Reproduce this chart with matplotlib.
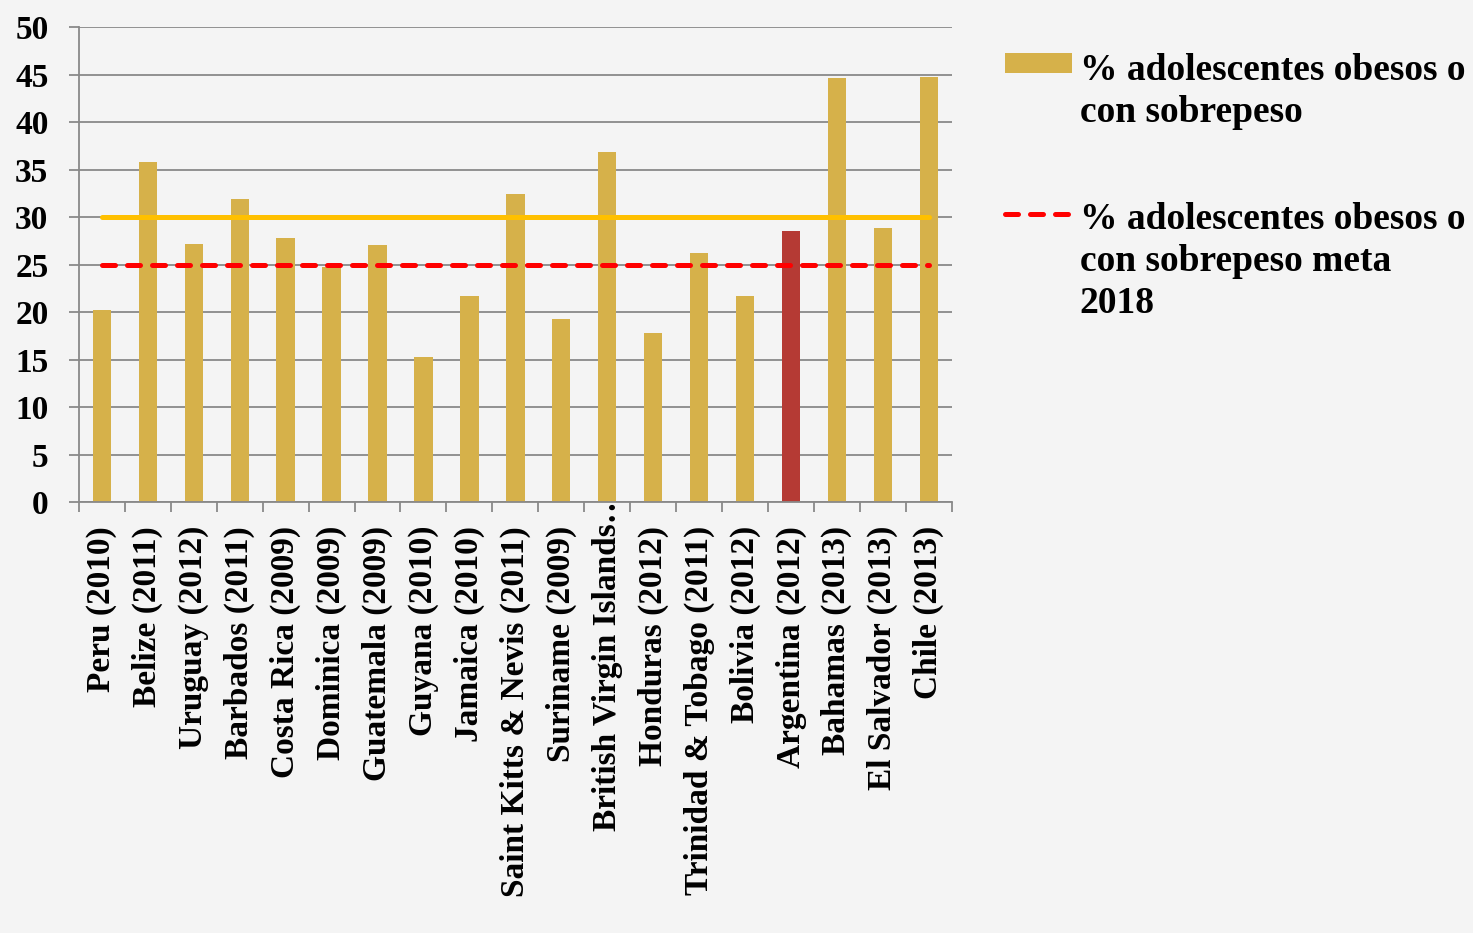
import matplotlib.pyplot as plt
import numpy as np
from matplotlib.legend_handler import HandlerPatch, HandlerLine2D
from matplotlib.transforms import ScaledTranslation

paises = ['Peru (2010)', 'Belize (2011)', 'Uruguay (2012)', 'Barbados (2011)',
          'Costa Rica (2009)', 'Dominica (2009)', 'Guatemala (2009)', 'Guyana (2010)',
          'Jamaica (2010)', 'Saint Kitts & Nevis (2011)', 'Suriname (2009)',
          'British Virgin Islands\u2026', 'Honduras (2012)', 'Trinidad & Tobago (2011)',
          'Bolivia (2012)', 'Argentina (2012)', 'Bahamas (2013)', 'El Salvador (2013)',
          'Chile (2013)']
obesos = [20.2, 35.8, 27.2, 31.9, 27.8, 24.8, 27.1, 15.3, 21.7, 32.5, 19.3, 36.9,
          17.8, 26.2, 21.7, 28.6, 44.7, 28.9, 44.8]
referencia = [30] * len(paises)
meta_2018 = [25] * len(paises)

plt.rcParams['font.family'] = ['Liberation Serif', 'DejaVu Serif']
plt.rcParams['font.weight'] = 'bold'

fig = plt.figure(figsize=(14.73, 9.33), dpi=100)
fig.patch.set_facecolor('#f4f4f4')
ax = fig.add_axes([0.0536, 0.4616, 0.5925, 0.5091])
ax.set_facecolor('#f4f4f4')

x = np.arange(len(paises))
colores = ['#b53a34' if p.startswith('Argentina') else '#d6b14a' for p in paises]
barras = ax.bar(x, obesos, width=0.4, color=colores, zorder=2)
ax.plot(x, referencia, color='#ffc000', lw=3.6, solid_capstyle='round', zorder=3)
linea_meta, = ax.plot(x, meta_2018, color='#ff0000', lw=3.6, dashes=(2.6, 2.4),
                      dash_capstyle='round', zorder=3)

ax.set_xlim(-0.5, len(paises) - 0.5)
ax.set_ylim(0, 50)
ax.set_yticks(np.arange(0, 51, 5))
ax.yaxis.grid(True, color='#898989', lw=1.3, zorder=0)
ax.set_axisbelow(True)
for s in ['top', 'right']:
    ax.spines[s].set_visible(False)
for s in ['left', 'bottom']:
    ax.spines[s].set_color('#898989')
    ax.spines[s].set_linewidth(1.3)

ax.set_xticks(np.arange(len(paises) + 1) - 0.5)
ax.set_xticklabels([])
ax.set_xticks(x, minor=True)
ax.set_xticklabels(paises, minor=True, rotation=90, fontsize=24, fontweight='bold', va='top')
ax.tick_params(axis='x', which='minor', length=0, pad=17)
ax.tick_params(axis='x', which='major', length=7, width=1.3, color='#898989')
ax.tick_params(axis='y', length=7, width=1.3, color='#898989', labelsize=24, pad=15)
for t in ax.get_yticklabels():
    t.set_fontweight('bold')

# la etiqueta truncada sube un poco, como en el original
for t in ax.get_xticklabels(minor=True):
    if t.get_text().endswith('\u2026'):
        t.set_transform(t.get_transform() + ScaledTranslation(0, 26 / 72, fig.dpi_scale_trans))

barra_ley = barras.patches[0]
leg = fig.legend([barra_ley, linea_meta],
                 ['% adolescentes obesos o\ncon sobrepeso',
                  '% adolescentes obesos o\ncon sobrepeso meta\n2018'],
                 loc='upper left', bbox_to_anchor=(0.682, 0.943), frameon=False,
                 prop={'weight': 'bold', 'size': 27}, labelspacing=1.9,
                 handlelength=1.79, handletextpad=0.21, handleheight=0.55,
                 borderpad=0, borderaxespad=0,
                 handler_map={barra_ley: HandlerPatch(ypad=0.08),
                              linea_meta: HandlerLine2D(ypad=0.073)})
for t in leg.get_texts():
    t.set_linespacing(1.27)
for col in leg._legend_handle_box.get_children():
    for fila in col.get_children():
        fila.align = 'top'

fig.savefig('out.png', dpi=100, facecolor=fig.get_facecolor())
